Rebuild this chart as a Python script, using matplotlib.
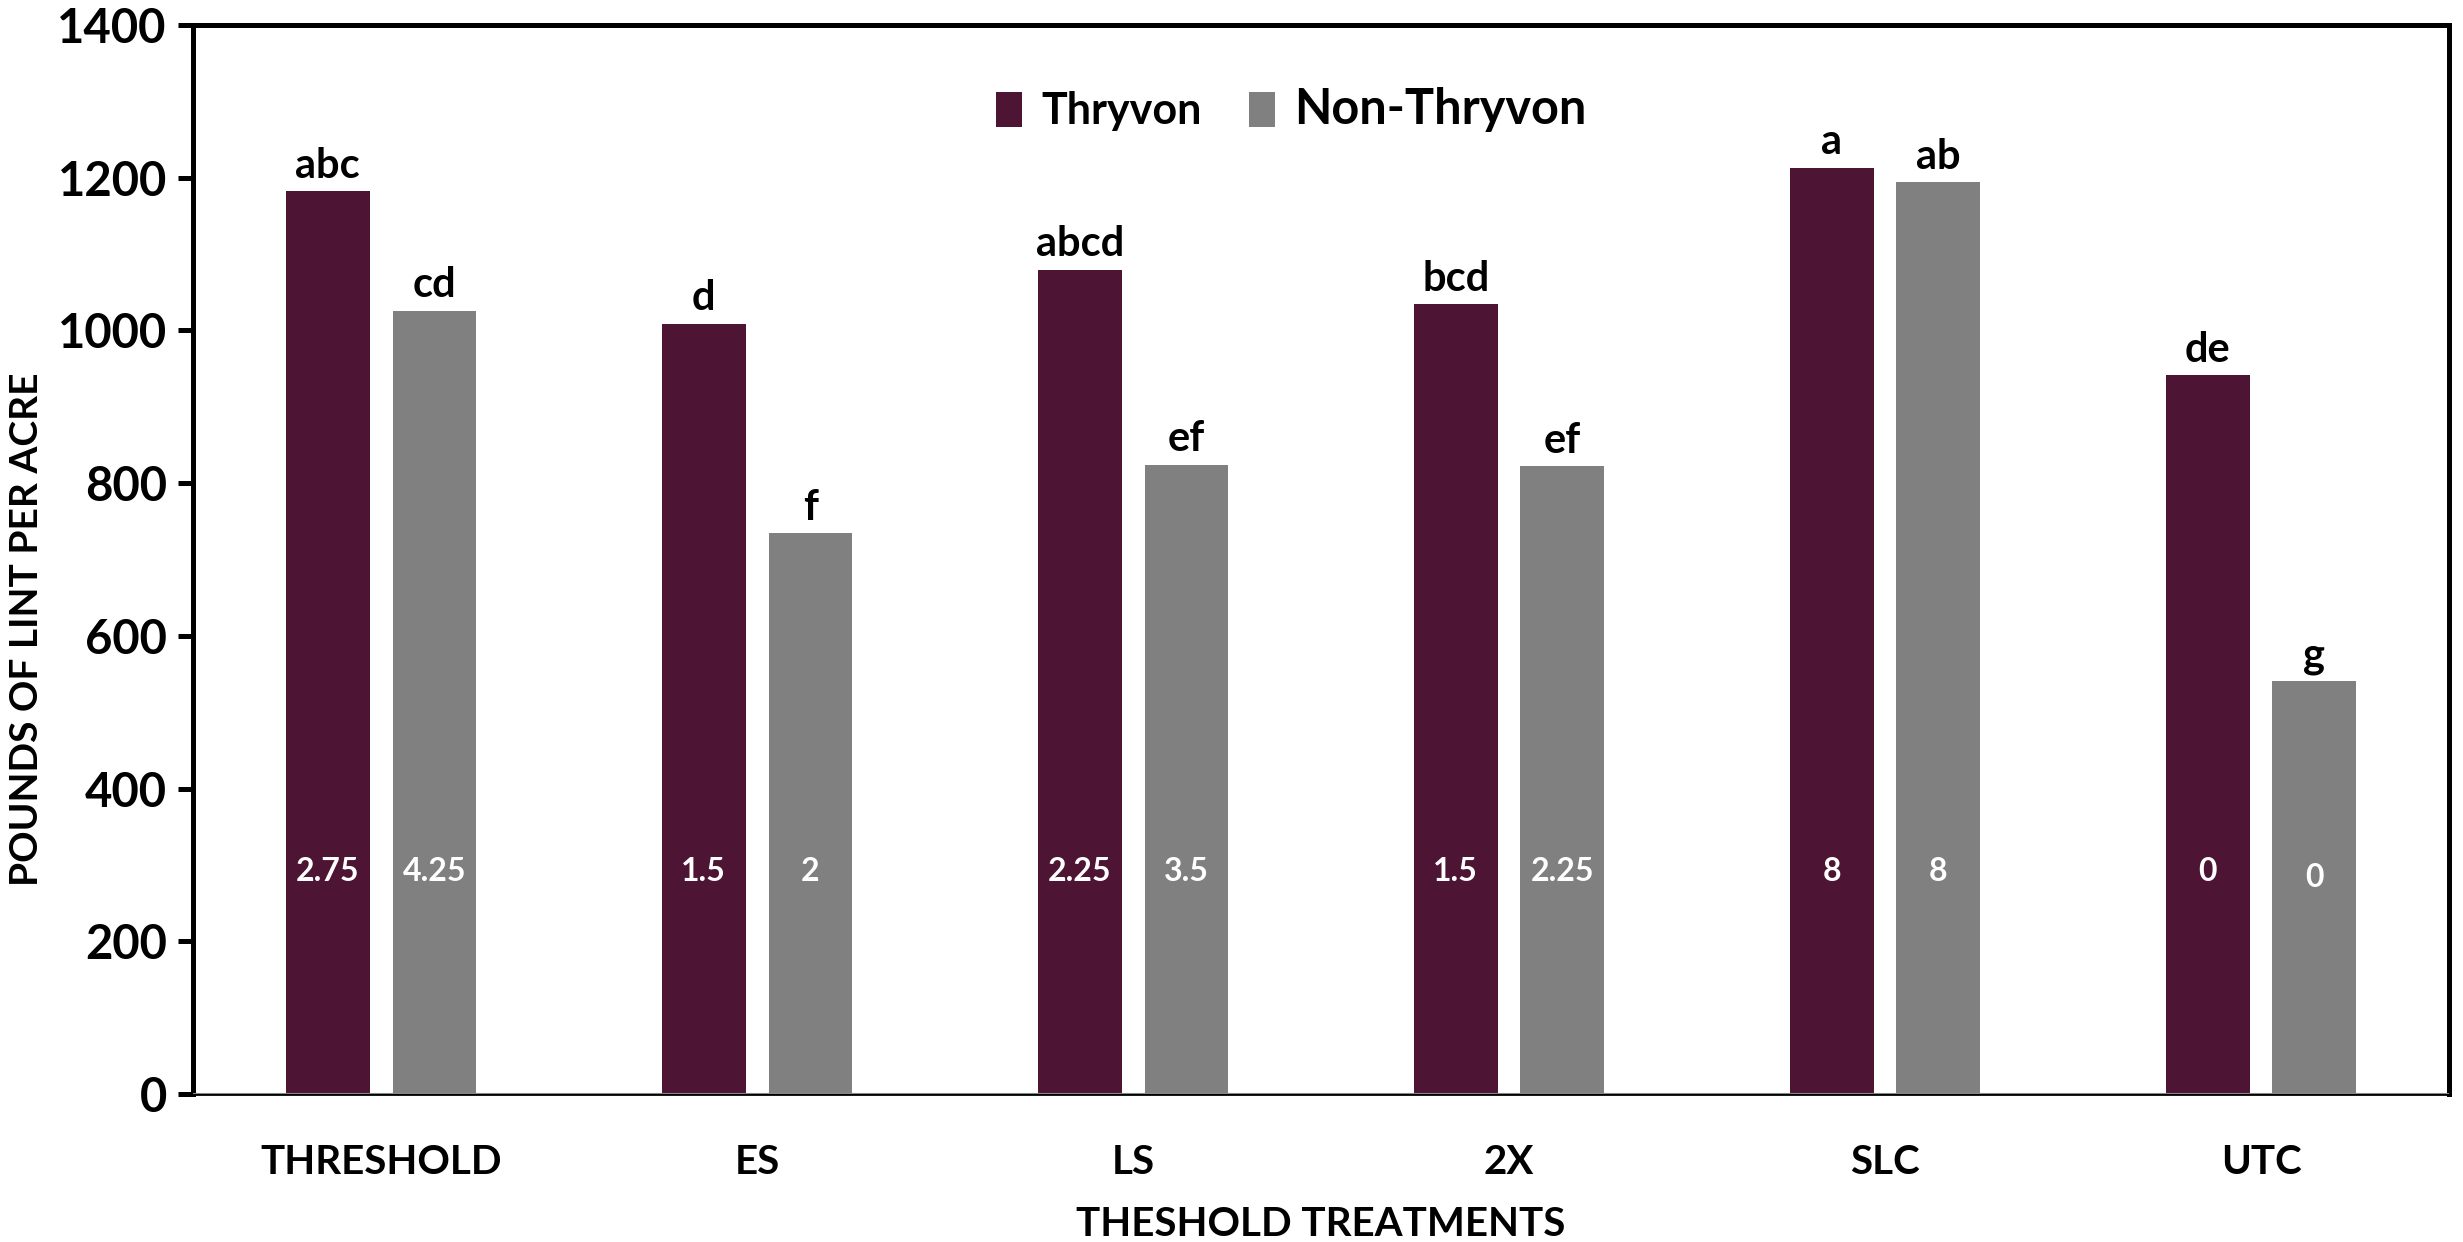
import matplotlib
matplotlib.use("Agg")
import matplotlib.pyplot as plt
import numpy as np

# data
treatments = ["THRESHOLD", "ES", "LS", "2X", "SLC", "UTC"]
thryvon = [1182, 1009, 1079, 1034, 1213, 941]
non_thryvon = [1026, 734, 824, 822, 1194, 541]
thryvon_letters = ["abc", "d", "abcd", "bcd", "a", "de"]
non_letters = ["cd", "f", "ef", "ef", "ab", "g"]
thryvon_inside = ["2.75", "1.5", "2.25", "1.5", "8", "0"]
non_inside = ["4.25", "2", "3.5", "2.25", "8", "0"]
yticks = [0, 200, 400, 600, 800, 1000, 1200, 1400]

plt.rcParams["font.family"] = ["Lato", "DejaVu Sans"]
plt.rcParams["font.weight"] = "bold"

c_thr = "#4d1434"
c_non = "#808080"

fig = plt.figure(figsize=(24.63, 12.42), dpi=100)
ax = fig.add_axes([0.0784, 0.1192, 0.9159, 0.8607])

x = np.arange(len(treatments))
width = 0.223
off = 0.142

ax.bar(x - off, thryvon, width, color=c_thr, label="Thryvon", zorder=2)
ax.bar(x + off, non_thryvon, width, color=c_non, label="Non-Thryvon", zorder=2)

# significance letters above bars
for xi, v, t in zip(x - off, thryvon, thryvon_letters):
    ax.text(xi, v + 18, t, ha="center", va="baseline", fontsize=30, fontweight="bold")
for xi, v, t in zip(x + off, non_thryvon, non_letters):
    ax.text(xi, v + 18, t, ha="center", va="baseline", fontsize=30, fontweight="bold")

# numbers inside bars
for xi, t in zip(x - off, thryvon_inside):
    ax.text(xi, 291, t, ha="center", va="center", fontsize=23, color="white", fontweight="bold")
for i, (xi, t) in enumerate(zip(x + off, non_inside)):
    yy = 284 if i == 5 else 291
    ax.text(xi, yy, t, ha="center", va="center", fontsize=23, color="white", fontweight="bold")

ax.set_xlim(-0.5, 5.5)
ax.set_ylim(0, 1400)
ax.set_yticks(yticks)
ax.set_xticks(x)
ax.set_xticklabels(treatments)
ax.tick_params(axis="y", labelsize=34, length=11, width=3.6, pad=8)
ax.tick_params(axis="x", labelsize=29, length=0, pad=36)
for lbl in ax.get_xticklabels() + ax.get_yticklabels():
    lbl.set_fontweight("bold")

for s in ax.spines.values():
    s.set_linewidth(3.6)
    s.set_color("black")
ax.spines["bottom"].set_linewidth(2)
ax.axhline(0, color="#888888", lw=1.5, zorder=3)

ax.set_xlabel("THESHOLD TREATMENTS", fontsize=29, fontweight="bold", labelpad=18)
ax.set_ylabel("POUNDS OF LINT PER ACRE", fontsize=28, fontweight="bold")
ax.yaxis.set_label_coords(-0.066, 0.435)

leg = ax.legend(loc="upper center", bbox_to_anchor=(0.487, 0.978), ncol=2,
                frameon=False, fontsize=31, handlelength=0.6, handleheight=0.9,
                handletextpad=0.45, columnspacing=1.1)
leg.get_texts()[0].set_fontsize(31)
leg.get_texts()[1].set_fontsize(35)
for t in leg.get_texts():
    t.set_fontweight("bold")

fig.savefig("out.png", dpi=100)
